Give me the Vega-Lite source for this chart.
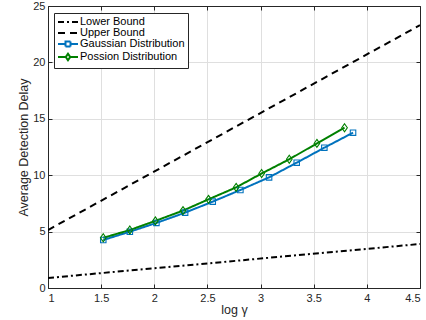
{
  "$schema": "https://vega.github.io/schema/vega-lite/v6.json",
  "width": 372,
  "height": 282,
  "autosize": {"type": "none"},
  "padding": {"left": 48, "top": 6, "right": 6, "bottom": 32},
  "background": "white",
  "config": {
    "view": {"stroke": null},
    "font": "Liberation Sans",
    "axis": {
      "labelFont": "Liberation Sans",
      "labelFontSize": 11,
      "labelColor": "#262626",
      "titleFont": "Liberation Sans",
      "titleFontSize": 12.5,
      "titleFontWeight": "normal",
      "titleColor": "#262626",
      "domainColor": "#262626",
      "tickColor": "#262626",
      "gridColor": "#dfdfdf",
      "tickSize": -4
    }
  },
  "datasets": {
    "curves": [
      {"series": "Lower Bound", "x": 1.0, "y": 0.89},
      {"series": "Lower Bound", "x": 4.5, "y": 3.9},
      {"series": "Upper Bound", "x": 1.0, "y": 5.14},
      {"series": "Upper Bound", "x": 4.5, "y": 23.3},
      {"series": "Gaussian Distribution", "x": 1.52, "y": 4.26},
      {"series": "Gaussian Distribution", "x": 1.77, "y": 4.99},
      {"series": "Gaussian Distribution", "x": 2.02, "y": 5.77},
      {"series": "Gaussian Distribution", "x": 2.29, "y": 6.68},
      {"series": "Gaussian Distribution", "x": 2.55, "y": 7.66},
      {"series": "Gaussian Distribution", "x": 2.81, "y": 8.69},
      {"series": "Gaussian Distribution", "x": 3.08, "y": 9.81},
      {"series": "Gaussian Distribution", "x": 3.34, "y": 11.11},
      {"series": "Gaussian Distribution", "x": 3.6, "y": 12.44},
      {"series": "Gaussian Distribution", "x": 3.87, "y": 13.77},
      {"series": "Possion Distribution", "x": 1.52, "y": 4.45},
      {"series": "Possion Distribution", "x": 1.77, "y": 5.14},
      {"series": "Possion Distribution", "x": 2.01, "y": 5.95},
      {"series": "Possion Distribution", "x": 2.27, "y": 6.86},
      {"series": "Possion Distribution", "x": 2.51, "y": 7.86},
      {"series": "Possion Distribution", "x": 2.77, "y": 8.92},
      {"series": "Possion Distribution", "x": 3.01, "y": 10.15},
      {"series": "Possion Distribution", "x": 3.27, "y": 11.41},
      {"series": "Possion Distribution", "x": 3.53, "y": 12.82},
      {"series": "Possion Distribution", "x": 3.79, "y": 14.21}
    ]
  },
  "data": {"name": "curves"},
  "layer": [
    {
      "mark": {"type": "line", "clip": true},
      "encoding": {
        "x": {
          "field": "x", "type": "quantitative",
          "scale": {"domain": [1, 4.5], "nice": false, "zero": false},
          "axis": {"values": [1, 1.5, 2, 2.5, 3, 3.5, 4, 4.5], "format": "~g", "title": "log γ", "labelPadding": 8, "titlePadding": 0, "grid": true}
        },
        "y": {
          "field": "y", "type": "quantitative",
          "scale": {"domain": [0, 25], "nice": false},
          "axis": {"values": [0, 5, 10, 15, 20, 25], "title": "Average Detection Delay", "labelPadding": 7, "titlePadding": 2, "grid": true}
        },
        "detail": {"field": "series"},
        "color": {
          "field": "series", "type": "nominal",
          "scale": {
            "domain": ["Lower Bound", "Upper Bound", "Gaussian Distribution", "Possion Distribution"],
            "range": ["#000000", "#000000", "#0072BD", "#008000"]
          },
          "legend": {
            "title": null,
            "orient": "none",
            "legendX": 6,
            "legendY": 7,
            "direction": "vertical",
            "strokeColor": "#262626",
            "fillColor": "white",
            "padding": 3,
            "labelFont": "Liberation Sans",
            "labelFontSize": 11,
            "labelColor": "#000000",
            "labelOffset": 11,
            "symbolSize": 100,
            "symbolStrokeWidth": 1.3,
            "rowPadding": -3,
            "encode": {
              "symbols": {
                "update": {
                  "shape": {"signal": "datum.value === 'Gaussian Distribution' ? 'M-1,0H0.5M1.5,0H3M0.5,-0.5H1.5V0.5H0.5Z' : (datum.value === 'Possion Distribution' ? 'M-1,0H0.55M1.45,0H3M1,-0.65L1.45,0L1,0.65L0.55,0Z' : 'M-1,0H3')"}
                }
              }
            }
          }
        },
        "strokeDash": {
          "field": "series", "type": "nominal",
          "scale": {
            "domain": ["Lower Bound", "Upper Bound", "Gaussian Distribution", "Possion Distribution"],
            "range": [[6, 3, 2, 3], [7, 5], [1, 0], [1, 0]]
          },
          "legend": {"title": null}
        },
        "strokeWidth": {
          "field": "series", "type": "nominal",
          "scale": {
            "domain": ["Lower Bound", "Upper Bound", "Gaussian Distribution", "Possion Distribution"],
            "range": [2, 2, 1, 1]
          },
          "legend": null
        }
      }
    },
    {
      "transform": [{"filter": "datum.series === 'Gaussian Distribution'"}],
      "mark": {"type": "point", "shape": "square", "size": 30, "filled": false, "stroke": "#0072BD", "strokeWidth": 1.1, "opacity": 1},
      "encoding": {
        "x": {"field": "x", "type": "quantitative", "axis": null},
        "y": {"field": "y", "type": "quantitative", "axis": null}
      }
    },
    {
      "transform": [{"filter": "datum.series === 'Possion Distribution'"}],
      "mark": {"type": "point", "shape": "M0,-1L0.7,0L0,1L-0.7,0Z", "size": 64, "filled": false, "stroke": "#008000", "strokeWidth": 1.1, "opacity": 1},
      "encoding": {
        "x": {"field": "x", "type": "quantitative", "axis": null},
        "y": {"field": "y", "type": "quantitative", "axis": null}
      }
    },
    {
      "mark": {"type": "line", "opacity": 0},
      "encoding": {
        "x": {"field": "x", "type": "quantitative", "axis": {"orient": "top", "values": [1, 1.5, 2, 2.5, 3, 3.5, 4, 4.5], "labels": false, "title": null, "grid": false}},
        "y": {"field": "y", "type": "quantitative", "axis": {"orient": "right", "values": [0, 5, 10, 15, 20, 25], "labels": false, "title": null, "grid": false}},
        "detail": {"field": "series"}
      }
    }
  ],
  "resolve": {"axis": {"x": "independent", "y": "independent"}}
}
